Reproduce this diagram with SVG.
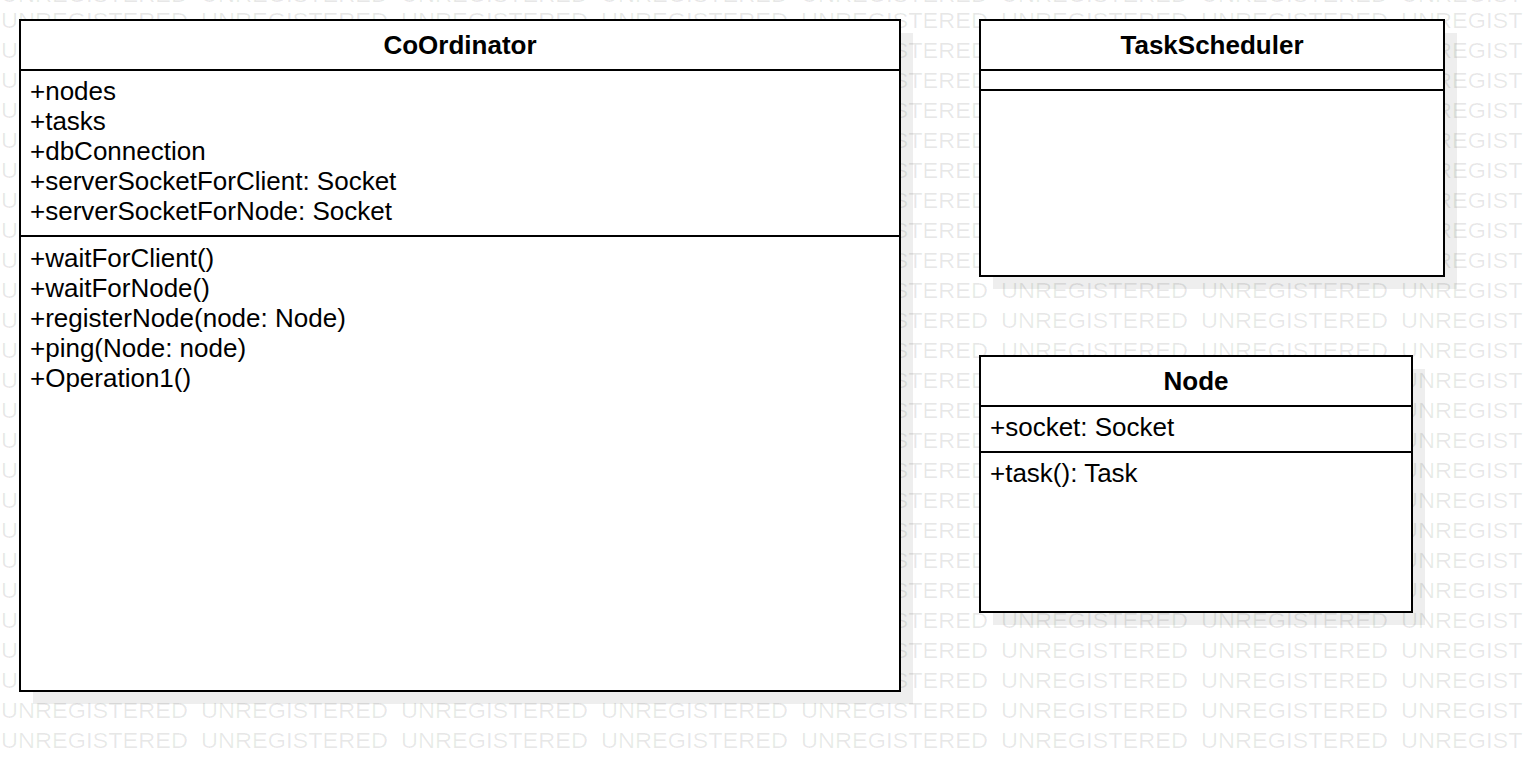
<svg xmlns="http://www.w3.org/2000/svg" width="1524" height="772" viewBox="0 0 1524 772">
<style>
  .shadow { fill: #eeeeee; stroke: none; }
  .box { fill: #ffffff; stroke: #000000; stroke-width: 2; }
  .sep { stroke: #000000; stroke-width: 2; }
  .title { font-family: "Liberation Sans", Arial, sans-serif; font-size: 26px; font-weight: bold; fill: #000000; text-anchor: middle; }
  .member { font-family: "Liberation Sans", Arial, sans-serif; font-size: 26px; fill: #000000; }
  .wm { font-family: "Liberation Sans", Arial, sans-serif; font-size: 22px; fill: #000000; fill-opacity: 0.09; }
</style>
<defs>
  <g id="wmrow">
    <text class="wm" x="1" y="0" textLength="187" lengthAdjust="spacingAndGlyphs">UNREGISTERED</text>
    <text class="wm" x="201" y="0" textLength="187" lengthAdjust="spacingAndGlyphs">UNREGISTERED</text>
    <text class="wm" x="401" y="0" textLength="187" lengthAdjust="spacingAndGlyphs">UNREGISTERED</text>
    <text class="wm" x="601" y="0" textLength="187" lengthAdjust="spacingAndGlyphs">UNREGISTERED</text>
    <text class="wm" x="801" y="0" textLength="187" lengthAdjust="spacingAndGlyphs">UNREGISTERED</text>
    <text class="wm" x="1001" y="0" textLength="187" lengthAdjust="spacingAndGlyphs">UNREGISTERED</text>
    <text class="wm" x="1201" y="0" textLength="187" lengthAdjust="spacingAndGlyphs">UNREGISTERED</text>
    <text class="wm" x="1401" y="0" textLength="187" lengthAdjust="spacingAndGlyphs">UNREGISTERED</text>
  </g>
</defs>
<rect x="0" y="0" width="1524" height="772" fill="#ffffff"/>
<g id="shadows">
  <rect class="shadow" x="33" y="33" width="880" height="671"/>
  <rect class="shadow" x="993" y="33" width="464" height="256"/>
  <rect class="shadow" x="993" y="369" width="432" height="256"/>
</g>
<g id="watermark">
  <use href="#wmrow" y="1.5"/>
  <use href="#wmrow" y="28"/>
  <use href="#wmrow" y="58"/>
  <use href="#wmrow" y="88"/>
  <use href="#wmrow" y="118"/>
  <use href="#wmrow" y="148"/>
  <use href="#wmrow" y="178"/>
  <use href="#wmrow" y="208"/>
  <use href="#wmrow" y="238"/>
  <use href="#wmrow" y="268"/>
  <use href="#wmrow" y="298"/>
  <use href="#wmrow" y="328"/>
  <use href="#wmrow" y="358"/>
  <use href="#wmrow" y="388"/>
  <use href="#wmrow" y="418"/>
  <use href="#wmrow" y="448"/>
  <use href="#wmrow" y="478"/>
  <use href="#wmrow" y="508"/>
  <use href="#wmrow" y="538"/>
  <use href="#wmrow" y="568"/>
  <use href="#wmrow" y="598"/>
  <use href="#wmrow" y="628"/>
  <use href="#wmrow" y="658"/>
  <use href="#wmrow" y="688"/>
  <use href="#wmrow" y="718"/>
  <use href="#wmrow" y="748"/>
</g>
<g id="connectors"></g>
<g id="CoOrdinator">
  <rect class="box" x="20" y="20" width="880" height="671"/>
  <line class="sep" x1="20" y1="70" x2="900" y2="70"/>
  <line class="sep" x1="20" y1="236" x2="900" y2="236"/>
  <text class="title" x="460" y="54">CoOrdinator</text>
  <text class="member" x="30" y="100">+nodes</text>
  <text class="member" x="30" y="130">+tasks</text>
  <text class="member" x="30" y="160">+dbConnection</text>
  <text class="member" x="30" y="190">+serverSocketForClient: Socket</text>
  <text class="member" x="30" y="220">+serverSocketForNode: Socket</text>
  <text class="member" x="30" y="266.5">+waitForClient()</text>
  <text class="member" x="30" y="296.5">+waitForNode()</text>
  <text class="member" x="30" y="326.5">+registerNode(node: Node)</text>
  <text class="member" x="30" y="356.5">+ping(Node: node)</text>
  <text class="member" x="30" y="386.5">+Operation1()</text>
</g>
<g id="TaskScheduler">
  <rect class="box" x="980" y="20" width="464" height="256"/>
  <line class="sep" x1="980" y1="70" x2="1444" y2="70"/>
  <line class="sep" x1="980" y1="90" x2="1444" y2="90"/>
  <text class="title" x="1212" y="54">TaskScheduler</text>
</g>
<g id="Node">
  <rect class="box" x="980" y="356" width="432" height="256"/>
  <line class="sep" x1="980" y1="406" x2="1412" y2="406"/>
  <line class="sep" x1="980" y1="452" x2="1412" y2="452"/>
  <text class="title" x="1196" y="390">Node</text>
  <text class="member" x="990" y="436">+socket: Socket</text>
  <text class="member" x="990" y="482">+task(): Task</text>
</g>
</svg>
